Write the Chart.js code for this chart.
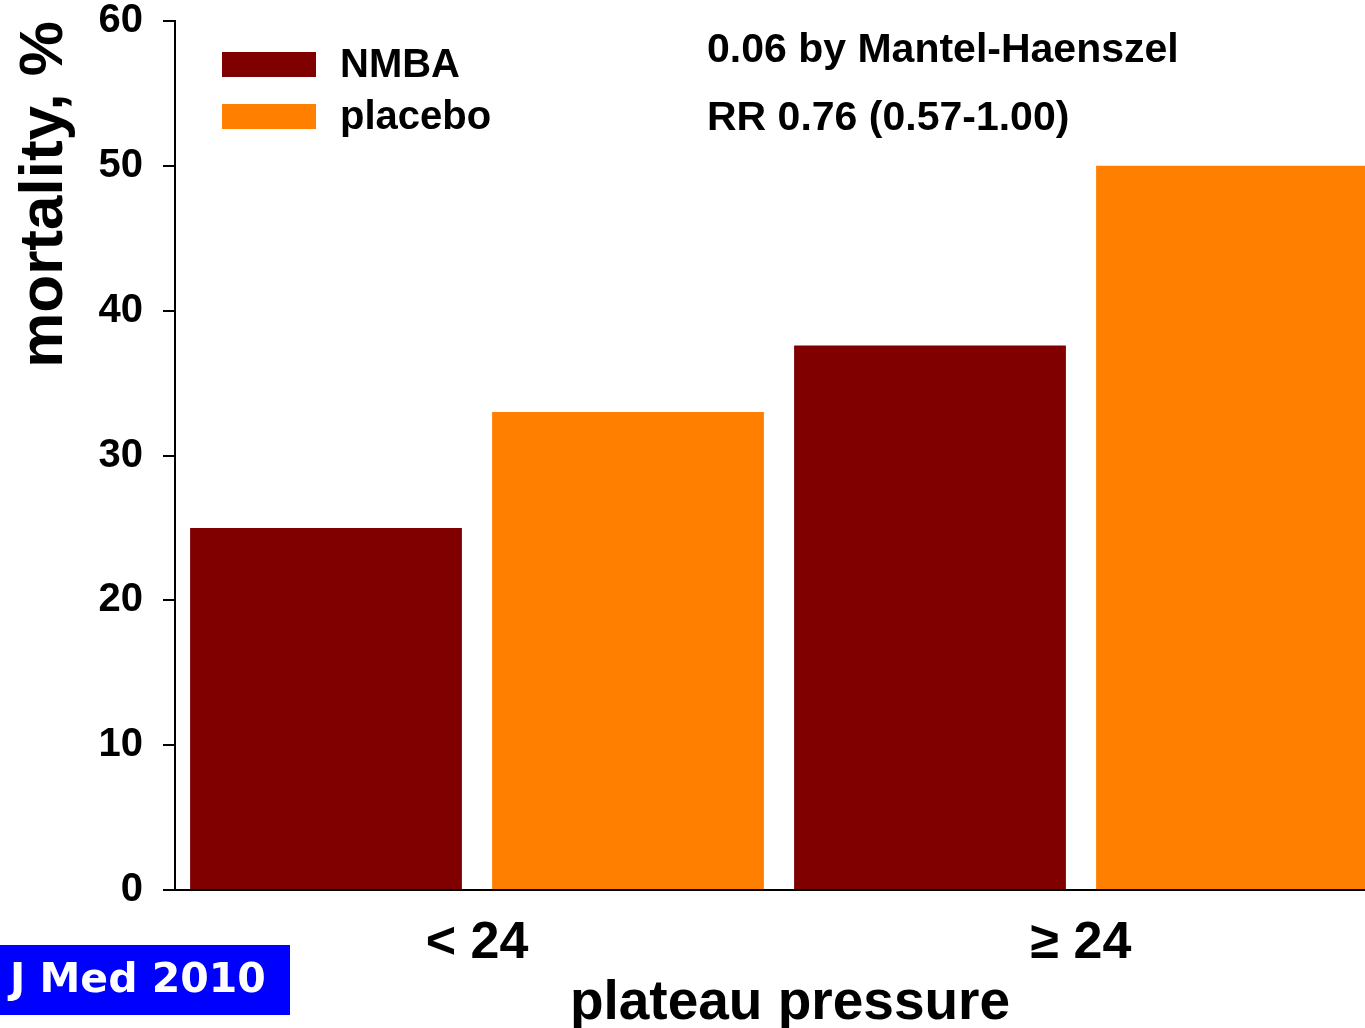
<!DOCTYPE html>
<html>
<head>
<meta charset="utf-8">
<script src="https://cdn.jsdelivr.net/npm/chart.js@4.4.1/dist/chart.umd.min.js"></script>
<style>
  html, body { margin: 0; padding: 0; background: #fff; overflow: hidden; }
  #wrap { width: 1385px; height: 1028px; }
</style>
</head>
<body>
<div id="wrap"><canvas id="chart" width="1385" height="1028"></canvas></div>
<script>
// categories and series values
const categories = ['< 24', '\u2265 24'];
const nmba = [25, 37.6];
const placebo = [33, 50];
const yTicks = [0, 10, 20, 30, 40, 50, 60];
const xTitle = 'plateau pressure';
const notes = ['0.06 by Mantel-Haenszel', 'RR 0.76 (0.57-1.00)'];
const badge = 'J Med 2010';

const FONT = "'Liberation Sans', Arial, sans-serif";

// legend, notes, x title and the journal badge drawn on top of the chart
const extras = {
    id: 'extras',
    afterDraw(chart) {
        const ctx = chart.ctx;
        ctx.save();
        ctx.textBaseline = 'middle';
        ctx.textAlign = 'left';
        ctx.font = 'bold 40px ' + FONT;

        // legend
        chart.data.datasets.forEach(function(ds, i) {
            const y = 52 + i * 52;
            ctx.fillStyle = ds.backgroundColor;
            ctx.fillRect(222, y, 94, 25);
            ctx.fillStyle = '#000';
            ctx.fillText(ds.label, 340, y + 14);
        });

        // notes
        ctx.font = 'bold 41px ' + FONT;
        notes.forEach(function(t, i) {
            ctx.fillText(t, 707, 51 + i * 68);
        });

        // x axis title, a bit right of the axis centre as in the source
        ctx.textAlign = 'center';
        ctx.font = 'bold 55px ' + FONT;
        ctx.fillText(xTitle, 790, 1004);

        // badge
        ctx.textAlign = 'left';
        ctx.fillStyle = '#0000FF';
        ctx.fillRect(0, 945, 290, 70);
        ctx.fillStyle = '#fff';
        ctx.font = "bold 41px 'Comic Sans MS', 'DejaVu Sans', sans-serif";
        ctx.fillText(badge, 10, 981);
        ctx.restore();
    }
};

new Chart(document.getElementById('chart'), {
    type: 'bar',
    data: {
        labels: categories,
        datasets: [
            { label: 'NMBA', data: nmba, backgroundColor: '#800000' },
            { label: 'placebo', data: placebo, backgroundColor: '#FF8000' }
        ]
    },
    options: {
        responsive: false,
        animation: false,
        layout: { padding: { top: 21, right: 2, left: 0, bottom: 0 } },
        categoryPercentage: 1,
        barPercentage: 0.9,
        plugins: {
            legend: { display: false },
            tooltip: { enabled: false }
        },
        scales: {
            x: {
                grid: { display: false },
                border: { display: true, color: '#000', width: 2 },
                ticks: {
                    color: '#000',
                    padding: 20,
                    font: { family: FONT, size: 52, weight: 'bold', lineHeight: 1 }
                },
                afterFit: function(scale) {
                    scale.height = 138;
                    scale.paddingLeft = 0;
                    scale.paddingRight = 0;
                }
            },
            y: {
                min: 0,
                max: 60,
                afterBuildTicks: function(scale) {
                    scale.ticks = yTicks.map(v => ({ value: v }));
                },
                grid: {
                    drawOnChartArea: false,
                    drawTicks: true,
                    tickLength: 12,
                    color: '#000',
                    lineWidth: 2
                },
                border: { display: true, color: '#000', width: 2 },
                ticks: {
                    color: '#000',
                    padding: 20,
                    font: { family: FONT, size: 40, weight: 'bold', lineHeight: 1 }
                },
                title: {
                    display: true,
                    text: 'mortality, %',
                    color: '#000',
                    align: 'end',
                    padding: { top: 14, bottom: 0 },
                    font: { family: FONT, size: 62, weight: 'bold', lineHeight: 1 }
                },
                afterFit: function(scale) {
                    scale.width = 175;
                    scale.paddingTop = 0;
                    scale.paddingBottom = 0;
                }
            }
        }
    },
    plugins: [extras]
});
</script>
</body>
</html>
